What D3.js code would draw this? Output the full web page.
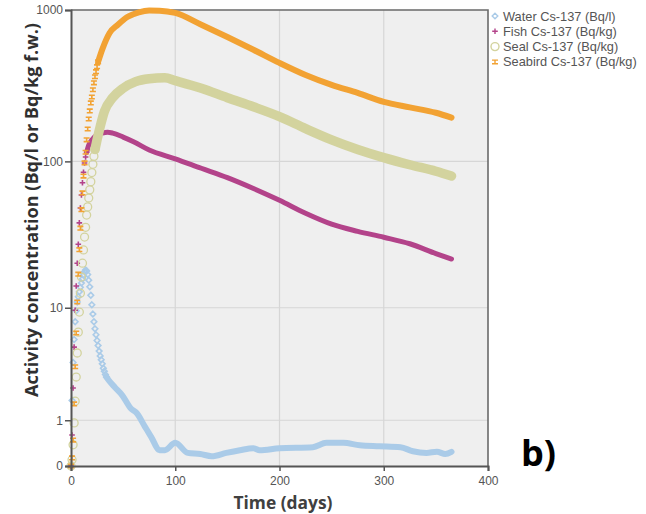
<!DOCTYPE html>
<html><head><meta charset="utf-8">
<script src="https://cdn.jsdelivr.net/npm/d3@7"></script>
<style>html,body{margin:0;padding:0;background:#fff;}svg{display:block;}</style>
</head><body>
<svg id="chart" width="646" height="514"></svg>
<script>
// ---------------- data ----------------
const seriesNames = ["Water Cs-137 (Bq/l)", "Fish Cs-137 (Bq/kg)", "Seal Cs-137 (Bq/kg)", "Seabird Cs-137 (Bq/kg)"];
const xTicks = [0, 100, 200, 300, 400];
const yTicks = [0, 1, 10, 100, 1000];

const waterDays = [0,1,2,3,4,5,6,7,8,9,10,11,12,13,14,15,16,17,18,19,20,21,22,23,24,25,26,27,28,29,30,31,32,33,34,
  36,42,49,57,63,71,77,85,90,100,112,124,135,149,162,175,181,200,232,245,261,277,296,316,328,341,351,359,365];
const waterValues = [0,1.7,3.8,5.8,7.9,9.5,11,12,13,14,15,16,17,18,18.5,18.2,17.2,15.7,14.1,12.3,10.5,9.0,7.9,7.0,6.3,5.7,5.2,4.7,4.3,4.0,3.7,3.4,3.2,3.0,2.85,
  2.68,2.3,1.93,1.41,1.23,0.81,0.55,0.27,0.27,0.42,0.22,0.20,0.16,0.22,0.27,0.31,0.27,0.31,0.33,0.42,0.42,0.37,0.35,0.33,0.25,0.22,0.24,0.20,0.24];

const fishDays = [0,1,2,3,4,5,6,7,8,9,10,11,12,13,14,15,
  17,20,25,30,35,40,50,60,75,100,125,150,175,200,225,250,275,300,325,350,365];
const fishValues = [0,0.6,2.26,5.06,9.6,14.3,20.6,27.8,38.8,48.9,59.7,72,84.6,97.6,107,115,
  128,139,150,154,156,154,145,135,119,104,90,78,66,55,45,38,34,31,28,24,22];

const sealDays = [0,1,2,3,4,5,6,7,8,9,10,11,12,13,14,15,16,17,18,19,20,21,22,23,
  25,28,32,40,50,62,75,90,100,125,150,175,200,225,250,275,300,325,350,365];
const sealValues = [0,0.1,0.38,0.92,1.67,2.85,4.54,6.6,9.3,12.7,16.5,20.6,25.4,31.1,36.2,43.8,49.7,57,64.6,73.3,84.3,95.6,108,120,
  139,170,214,264,305,337,352,357,342,305,264,230,198,165,139,120,106,95,86,80];

const seabirdDays = [0,1,2,3,4,5,6,7,8,9,10,11,12,13,14,15,16,17,18,19,20,21,22,23,24,25,26,
  30,37,45,54,65,75,85,100,125,150,175,200,225,250,275,300,325,350,365];
const seabirdValues = [0,0.13,0.48,1.56,3.5,6.5,11,17.3,25.5,35.7,47.6,61.6,79.8,97.6,115,139,164,191,216,244,267,298,331,363,392,423,455,
  550,706,800,899,965,992,990,956,800,664,547,448,373,321,284,248,228,210,195];

// ---------------- layout ----------------
const svg = d3.select("#chart");
const L = 71, R = 488, T = 10, B = 466;
const x = d3.scaleLinear().domain([0, 400]).range([L, R]);
const y = d3.scaleSymlog().constant(1).domain([0, 1000]).range([B, T]);

svg.append("rect").attr("x", L).attr("y", T).attr("width", R - L).attr("height", B - T).attr("fill", "#efefef");

// grid
const grid = svg.append("g").attr("stroke", "#d6d6d6").attr("stroke-width", 1.2);
[100, 200, 300].forEach(v => grid.append("line").attr("x1", x(v)).attr("x2", x(v)).attr("y1", T).attr("y2", B));
[1, 10, 100].forEach(v => grid.append("line").attr("x1", L).attr("x2", R).attr("y1", y(v)).attr("y2", y(v)));

// frame top/right
svg.append("path").attr("d", `M${L},${T}H${R}V${B}`).attr("fill", "none").attr("stroke", "#6a6a6a").attr("stroke-width", 1.6);

// series config
const series = [
  {days: waterDays, vals: waterValues, color: "#aacbe8", split: 34, width: 6, marker: "diamond"},
  {days: fishDays, vals: fishValues, color: "#b3438a", split: 15, width: 5, marker: "plus"},
  {days: sealDays, vals: sealValues, color: "#d3d39e", split: 23, width: 9.5, marker: "circle"},
  {days: seabirdDays, vals: seabirdValues, color: "#f2a233", split: 26, width: 6, marker: "ibeam"}
];

function markerPath(type) {
  switch (type) {
    case "diamond": return "M0,-2.8L2.8,0L0,2.8L-2.8,0Z";
    case "plus": return "M-2.8,0H2.8M0,-2.8V2.8";
    case "circle": return d3.symbol(d3.symbolCircle, 50)();
    case "ibeam": return "M-3,-1.8H3M-3,1.8H3M0,-1.8V1.8";
  }
}

const line = d3.line().x(d => x(d[0])).y(d => y(d[1])).curve(d3.curveMonotoneX);

series.forEach(s => {
  const pts = s.days.map((d, i) => [d, s.vals[i]]);
  const early = pts.filter(p => p[0] <= s.split);
  const late = pts.filter(p => p[0] >= s.split);
  const g = svg.append("g");
  g.append("path").datum(late).attr("d", line).attr("fill", "none")
    .attr("stroke", s.color).attr("stroke-width", s.width).attr("stroke-linecap", "round").attr("stroke-linejoin", "round");
  g.selectAll("path.m").data(early).join("path").attr("class", "m")
    .attr("transform", p => `translate(${x(p[0])},${y(p[1])})`)
    .attr("d", markerPath(s.marker))
    .attr("fill", "none").attr("stroke", s.color).attr("stroke-width", s.marker === "circle" ? 1.3 : 1.6);
});

// axes
const yAxis = d3.axisLeft(y).tickValues(yTicks).tickFormat(d3.format("d")).tickSize(6).tickPadding(2);
const xAxis = d3.axisBottom(x).tickValues(xTicks).tickFormat(d3.format("d")).tickSize(5).tickPadding(5);
const gy = svg.append("g").attr("transform", `translate(${L},0)`).call(yAxis);
const gx = svg.append("g").attr("transform", `translate(0,${B})`).call(xAxis);
[gx, gy].forEach(g => {
  g.select(".domain").attr("stroke", "#555").attr("stroke-width", 2);
  g.selectAll(".tick line").attr("stroke", "#555").attr("stroke-width", 1.5);
  g.selectAll(".tick text").attr("fill", "#555").style("font-family", "Liberation Sans, Arial, sans-serif").style("font-size", "12px");
});

// axis titles
svg.append("text").attr("x", 283).attr("y", 509).attr("text-anchor", "middle")
  .style("font-family", "Open Sans, sans-serif").style("font-weight", "bold").style("font-size", "17px").attr("fill", "#404040")
  .attr("textLength", 99).attr("lengthAdjust", "spacingAndGlyphs")
  .text("Time (days)");
svg.append("text").attr("transform", "translate(38,210) rotate(-90)").attr("text-anchor", "middle")
  .style("font-family", "Open Sans, sans-serif").style("font-weight", "bold").style("font-size", "17.5px").attr("fill", "#303030")
  .attr("textLength", 374).attr("lengthAdjust", "spacingAndGlyphs")
  .text("Activity concentration (Bq/l or Bq/kg f.w.)");

// legend
const leg = svg.append("g");
series.forEach((s, i) => {
  const cy = 16 + i * 15.3;
  leg.append("path").attr("transform", `translate(495,${cy})`).attr("d", markerPath(s.marker))
    .attr("fill", "none").attr("stroke", s.color).attr("stroke-width", 1.4);
  leg.append("text").attr("x", 503).attr("y", cy + 4.5).attr("fill", "#555")
    .style("font-family", "Liberation Sans, Arial, sans-serif").style("font-size", "12.8px").text(seriesNames[i]);
});

// panel label
svg.append("text").attr("x", 521).attr("y", 466)
  .style("font-family", "Open Sans, sans-serif").style("font-weight", "bold").style("font-size", "36px").attr("fill", "#000")
  .text("b)");
</script>
</body></html>
